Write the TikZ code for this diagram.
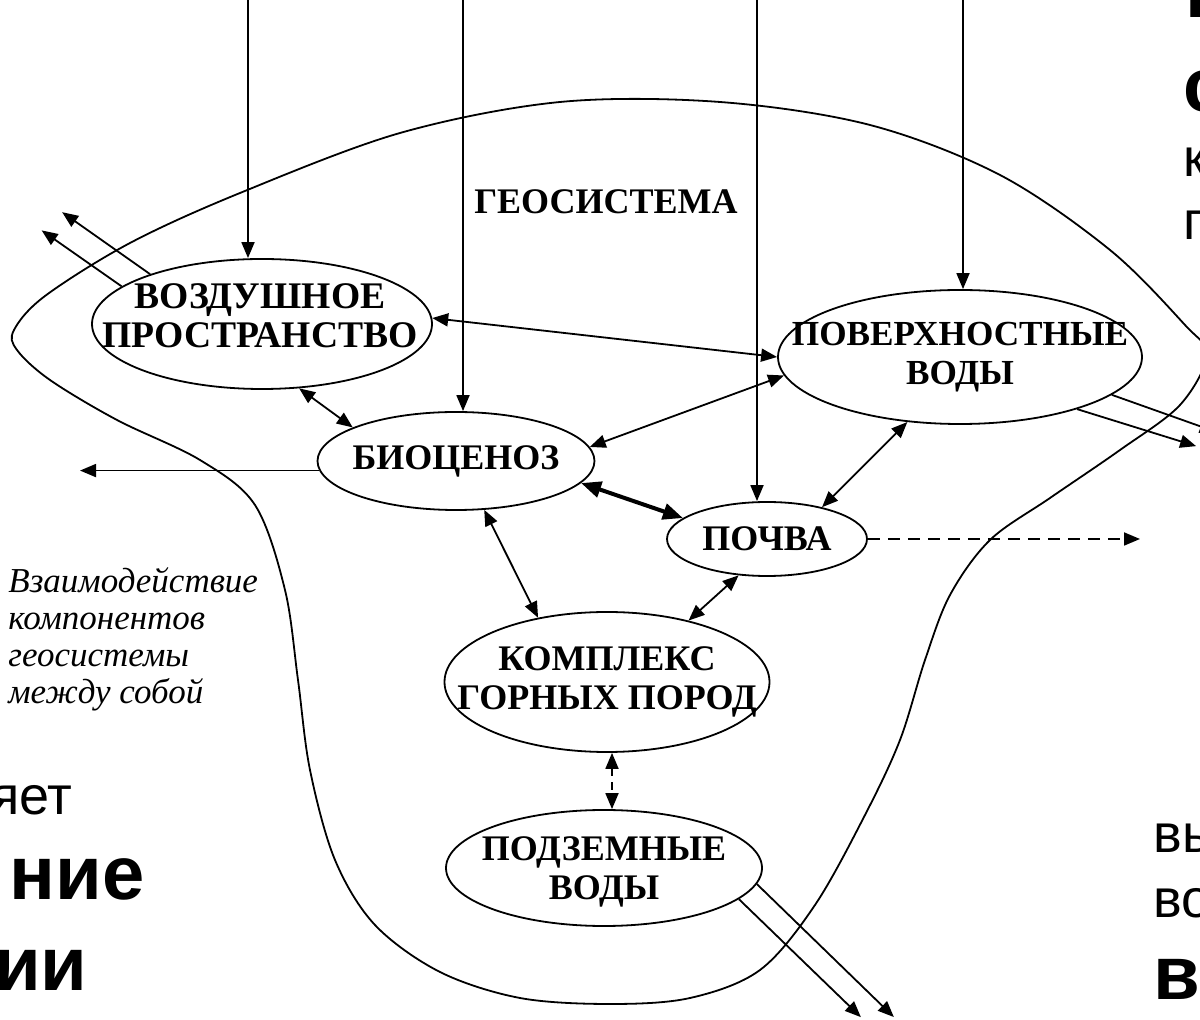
\documentclass[tikz,border=0pt]{standalone}
\usepackage{fontspec}
\setmainfont{Liberation Serif}
\newfontfamily\sansf{Liberation Sans}
\usetikzlibrary{arrows.meta,shapes.geometric,calc}
\tikzset{
  comp/.style={ellipse, draw, line width=0.9pt, inner sep=0pt},
  lbl/.style={font=\bfseries\fontsize{18}{19.5}\selectfont, align=center, inner sep=0pt},
  tip/.tip={Triangle[length=8pt,width=6.5pt]},
  bigtip/.tip={Triangle[length=10pt,width=8pt]},
  arr/.style={-tip, line width=0.9pt},
  darr/.style={tip-tip, line width=0.9pt},
  tdarr/.style={bigtip-bigtip, line width=2pt},
  dasharr/.style={-tip, line width=0.9pt, dash pattern=on 6pt off 4pt},
  ddarr/.style={tip-tip, line width=0.9pt, dash pattern=on 4pt off 3pt},
  frag/.style={font=\sansf\fontsize{27}{30}\selectfont, inner sep=0pt},
  bfrag/.style={font=\sansf\bfseries\fontsize{38}{40}\selectfont, inner sep=0pt}
}
\begin{document}
\begin{tikzpicture}[x=0.5pt,y=-0.5pt]
\useasboundingbox (0,0) rectangle (1200,1020);
\clip (0,0) rectangle (1200,1020);

% geosystem outline
\draw[line width=0.9pt] plot[smooth cycle, tension=0.55] coordinates {
 (14,330) (45,296) (130,243) (240,193) (400,133) (560,102) (720,102) (870,125)
 (1000,175) (1110,250) (1185,325) (1207,355) (1180,405) (1120,450) (1050,498)
 (990,540) (950,595) (925,660) (900,740) (865,815) (815,905) (760,970) (690,998)
 (610,1004) (520,998) (440,972) (375,925) (335,860) (310,770) (298,680) (285,590)
 (255,505) (200,460) (117,420) (50,380) (17,350)};

% components
\node[comp, minimum width=170pt, minimum height=65pt,
      label={[lbl, yshift=4pt, xshift=-1pt, font=\bfseries\fontsize{18.8}{19.5}\selectfont]center:{ВОЗДУШНОЕ\\ПРОСТРАНСТВО}}] (air) at (262,324) {};
\node[comp, minimum width=182pt, minimum height=67pt,
      label={[lbl, font=\bfseries\fontsize{17.6}{19.5}\selectfont]center:{ПОВЕРХНОСТНЫЕ\\ВОДЫ}}] (surf) at (960,357) {};
\node[comp, minimum width=138.5pt, minimum height=49pt,
      label={[lbl]center:{БИОЦЕНОЗ}}] (bio) at (456,461) {};
\node[comp, minimum width=100pt, minimum height=37pt,
      label={[lbl]center:{ПОЧВА}}] (soil) at (767,539) {};
\node[comp, minimum width=162.5pt, minimum height=70pt,
      label={[lbl]center:{КОМПЛЕКС\\ГОРНЫХ ПОРОД}}] (rock) at (607,682) {};
\node[comp, minimum width=158pt, minimum height=58pt,
      label={[lbl, yshift=-2pt]center:{ПОДЗЕМНЫЕ\\ВОДЫ}}] (podz) at (604,868) {};

\node[lbl] (geo) at (606,202) {ГЕОСИСТЕМА};

\node[anchor=north west, align=left, inner sep=0pt,
      font=\itshape\fontsize{17.5}{18.5}\selectfont] (note) at (8,567)
      {Взаимодействие\\компонентов\\геосистемы\\между собой};

% inputs from above
\coordinate (t1) at (248,-5);
\coordinate (t2) at (463,-5);
\coordinate (t3) at (757,-5);
\coordinate (t4) at (963,-5);
\draw[arr] (t1) -- (t1 |- air.north);
\draw[arr] (t2) -- (t2 |- bio.north);
\draw[arr] (t3) -- (t3 |- soil.north);
\draw[arr] (t4) -- (t4 |- surf.north);

% interactions
\draw[darr] (air.2) -- (surf.180);
\draw[darr] (air.-60) -- (bio.162);
\draw[darr] (bio.6) -- (surf.186);
\draw[tdarr] (bio.-10) -- (soil.166);
\draw[darr] (soil.30) -- (surf.231);
\draw[darr] (soil.232) -- (rock.37);
\draw[darr] (bio.-60) -- (rock.137);
\draw[ddarr] ($(rock.south)+(5,0)$) -- ($(podz.north)+(8,0)$);

% outputs
\coordinate (oA1) at ($(air.156)+(-88,-62)$);
\coordinate (oA2) at ($(air.165)+(-80,-56)$);
\draw[arr] (air.156) -- (oA1);
\draw[arr] (air.165) -- (oA2);
\coordinate (oB) at (80,0);
\draw[arr] (bio.184) -- (bio.184 -| oB);
\coordinate (oS) at (1140,0);
\draw[dasharr] (soil.east) -- (soil.east -| oS);
\coordinate (oW1) at ($(surf.-14)+(104,37)$);
\coordinate (oW2) at ($(surf.-24)+(119,37)$);
\draw[arr] (surf.-14) -- (oW1);
\draw[arr] (surf.-24) -- (oW2);
\coordinate (oP1) at ($(podz.-6)+(137,133)$);
\coordinate (oP2) at ($(podz.-13)+(122,118)$);
\draw[arr] (podz.-6) -- (oP1);
\draw[arr] (podz.-13) -- (oP2);

% clipped slide text fragments
\node[bfrag, anchor=base west] (r1) at (1185,18) {в};
\node[bfrag, anchor=base west] (r2) at (1183,112) {с};
\node[frag, anchor=base west] (r3) at (1183,177) {к};
\node[frag, anchor=base west] (r4) at (1183,240) {г};
\node[frag, anchor=base west] (r5) at (1153,853) {вы};
\node[frag, anchor=base west] (r6) at (1153,918) {во};
\node[bfrag, anchor=base west] (r7) at (1153,1000) {в};
\node[frag, anchor=base east] (l1) at (73,815) {яет};
\node[bfrag, anchor=base east] (l2) at (145,900) {ние};
\node[bfrag, anchor=base east] (l3) at (88,990) {ии};
\end{tikzpicture}
\end{document}
